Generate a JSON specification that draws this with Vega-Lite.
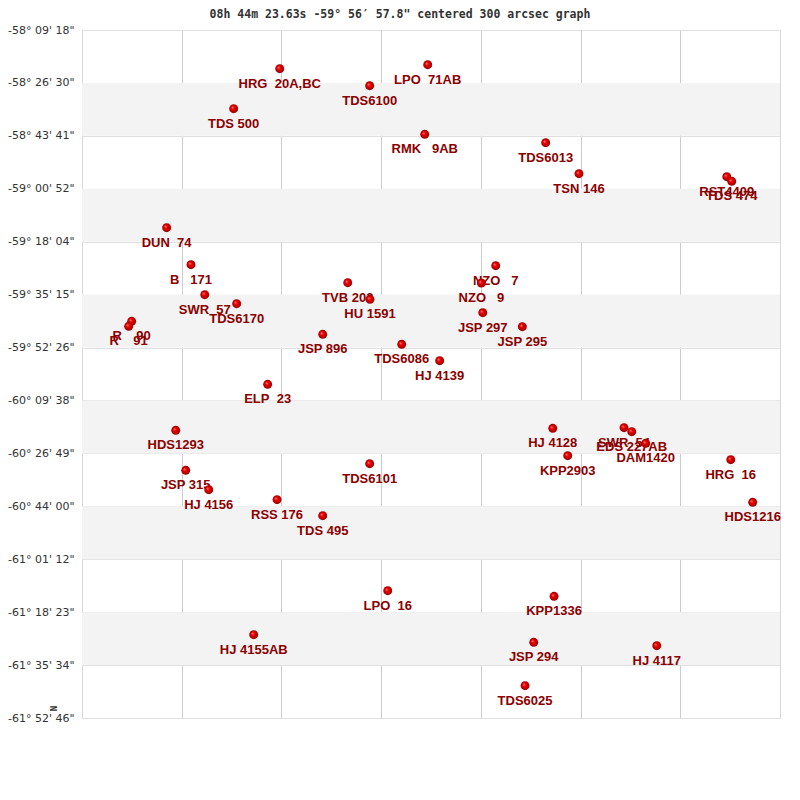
{
  "$schema": "https://vega.github.io/schema/vega-lite/v6.json",
  "autosize": {"type": "none"},
  "width": 698,
  "height": 688,
  "padding": {"left": 82, "top": 30, "right": 20, "bottom": 82},
  "background": "white",
  "title": {
    "text": "08h 44m 23.63s -59° 56′ 57.8\" centered 300 arcsec graph",
    "font": "DejaVu Sans Mono",
    "fontSize": 11.5,
    "fontWeight": "bold",
    "color": "#333333",
    "anchor": "middle",
    "frame": "group",
    "dx": -31,
    "dy": 1,
    "offset": 5
  },
  "config": {
    "view": {"stroke": "#d8d8d8", "strokeWidth": 1}
  },
  "datasets": {
    "bands": [
      {"top": -58.441667, "bottom": -58.728056},
      {"top": -59.014444, "bottom": -59.301111},
      {"top": -59.5875, "bottom": -59.873889},
      {"top": -60.160556, "bottom": -60.446944},
      {"top": -60.733333, "bottom": -61.02},
      {"top": -61.306389, "bottom": -61.592778}
    ],
    "stars": [
      {"name": "HRG\u00a0\u00a020A,BC", "x": 1.983, "dec": -58.3645},
      {"name": "TDS 500", "x": 1.521, "dec": -58.581},
      {"name": "DUN\u00a0\u00a074", "x": 0.849, "dec": -59.2252},
      {"name": "LPO\u00a0\u00a071AB", "x": 3.467, "dec": -58.3428},
      {"name": "TDS6100", "x": 2.885, "dec": -58.4565},
      {"name": "RMK\u00a0\u00a0\u00a09AB", "x": 3.437, "dec": -58.7196},
      {"name": "TDS6013", "x": 4.650, "dec": -58.7651},
      {"name": "TSN 146", "x": 4.984, "dec": -58.9329},
      {"name": "RST4409", "x": 6.466, "dec": -58.9491},
      {"name": "TDS 474", "x": 6.516, "dec": -58.9741},
      {"name": "B\u00a0\u00a0\u00a0171", "x": 1.093, "dec": -59.4255},
      {"name": "SWR\u00a0\u00a057", "x": 1.231, "dec": -59.5879},
      {"name": "TDS6170", "x": 1.551, "dec": -59.6367},
      {"name": "R\u00a0\u00a0\u00a0\u00a090", "x": 0.498, "dec": -59.7319},
      {"name": "R\u00a0\u00a0\u00a0\u00a091", "x": 0.468, "dec": -59.759},
      {"name": "JSP 896", "x": 2.414, "dec": -59.8023},
      {"name": "ELP\u00a0\u00a023", "x": 1.862, "dec": -60.073},
      {"name": "HDS1293", "x": 0.940, "dec": -60.322},
      {"name": "JSP 315", "x": 1.040, "dec": -60.5385},
      {"name": "HJ 4156", "x": 1.271, "dec": -60.6435},
      {"name": "TVB 203", "x": 2.665, "dec": -59.523},
      {"name": "HU 1591", "x": 2.888, "dec": -59.6128},
      {"name": "NZO\u00a0\u00a0\u00a07", "x": 4.149, "dec": -59.4309},
      {"name": "NZO\u00a0\u00a0\u00a09", "x": 4.005, "dec": -59.5246},
      {"name": "JSP 297", "x": 4.019, "dec": -59.6854},
      {"name": "JSP 295", "x": 4.416, "dec": -59.7612},
      {"name": "TDS6086", "x": 3.206, "dec": -59.8564},
      {"name": "HJ 4139", "x": 3.587, "dec": -59.9452},
      {"name": "HJ 4128", "x": 4.721, "dec": -60.3112},
      {"name": "TDS6101", "x": 2.885, "dec": -60.5028},
      {"name": "KPP2903", "x": 4.871, "dec": -60.4595},
      {"name": "SWR\u00a0\u00a054", "x": 5.436, "dec": -60.3079},
      {"name": "EDS 227AB", "x": 5.513, "dec": -60.3296},
      {"name": "DAM1420", "x": 5.653, "dec": -60.3924},
      {"name": "HRG\u00a0\u00a016", "x": 6.506, "dec": -60.4811},
      {"name": "RSS 176", "x": 1.956, "dec": -60.6977},
      {"name": "TDS 495", "x": 2.414, "dec": -60.7843},
      {"name": "HJ 4155AB", "x": 1.722, "dec": -61.4285},
      {"name": "LPO\u00a0\u00a016", "x": 3.066, "dec": -61.1903},
      {"name": "KPP1336", "x": 4.734, "dec": -61.2206},
      {"name": "JSP 294", "x": 4.530, "dec": -61.4696},
      {"name": "TDS6025", "x": 4.443, "dec": -61.7046},
      {"name": "HDS1216", "x": 6.726, "dec": -60.7118},
      {"name": "HJ 4117", "x": 5.764, "dec": -61.488}
    ]
  },
  "layer": [
    {
      "data": {"name": "bands"},
      "mark": {"type": "rect", "fill": "#f3f3f3", "stroke": null},
      "encoding": {
        "x": {"datum": 0, "type": "quantitative", "scale": {"domain": [0, 7], "nice": false, "zero": false},
          "axis": {"values": [1, 2, 3, 4, 5, 6], "grid": true, "gridColor": "#cccccc", "gridWidth": 1, "labels": false, "ticks": false, "domain": false, "title": null}},
        "x2": {"datum": 7},
        "y": {"field": "top", "type": "quantitative",
          "scale": {"domain": [-61.879444, -58.155], "nice": false, "zero": false},
          "axis": {
            "values": [-58.155, -58.441667, -58.728056, -59.014444, -59.301111, -59.5875, -59.873889, -60.160556, -60.446944, -60.733333, -61.02, -61.306389, -61.592778, -61.879444],
            "labelExpr": "'-' + floor(round(-datum.value*3600)/3600) + '° ' + format(floor((round(-datum.value*3600)%3600)/60),'02d') + \"' \" + format(round(-datum.value*3600)%60,'02d') + '\"'",
            "grid": true, "gridColor": "#e0e0e0", "gridWidth": 1,
            "ticks": false, "domain": false,
            "labelFont": "DejaVu Sans", "labelFontSize": 11, "labelColor": "#333333", "labelPadding": 8,
            "labelBaseline": "middle",
            "title": "N", "titleFont": "DejaVu Sans Mono", "titleFontSize": 9, "titleFontWeight": "bold",
            "titleColor": "#333333", "titleAngle": 270, "titleX": -29, "titleY": 678,
            "titleAlign": "center", "titleBaseline": "middle"
          }},
        "y2": {"field": "bottom"}
      }
    },
    {
      "data": {"name": "stars"},
      "mark": {"type": "text", "font": "Liberation Sans", "fontSize": 13, "fontWeight": "bold", "fill": "#8b0000", "align": "center", "baseline": "middle", "dy": 15},
      "encoding": {
        "x": {"field": "x", "type": "quantitative"},
        "y": {"field": "dec", "type": "quantitative"},
        "text": {"field": "name"}
      }
    },
    {
      "data": {"name": "stars"},
      "mark": {"type": "point", "shape": "circle", "filled": true, "size": 80, "opacity": 1, "strokeWidth": 0,
        "fill": {"gradient": "radial", "x1": 0.35, "y1": 0.35, "r1": 0, "x2": 0.5, "y2": 0.5, "r2": 0.5,
          "stops": [{"offset": 0, "color": "#ff9a9a"}, {"offset": 0.35, "color": "#f00000"}, {"offset": 1, "color": "#9a0000"}]}},
      "encoding": {
        "x": {"field": "x", "type": "quantitative"},
        "y": {"field": "dec", "type": "quantitative"}
      }
    }
  ]
}
